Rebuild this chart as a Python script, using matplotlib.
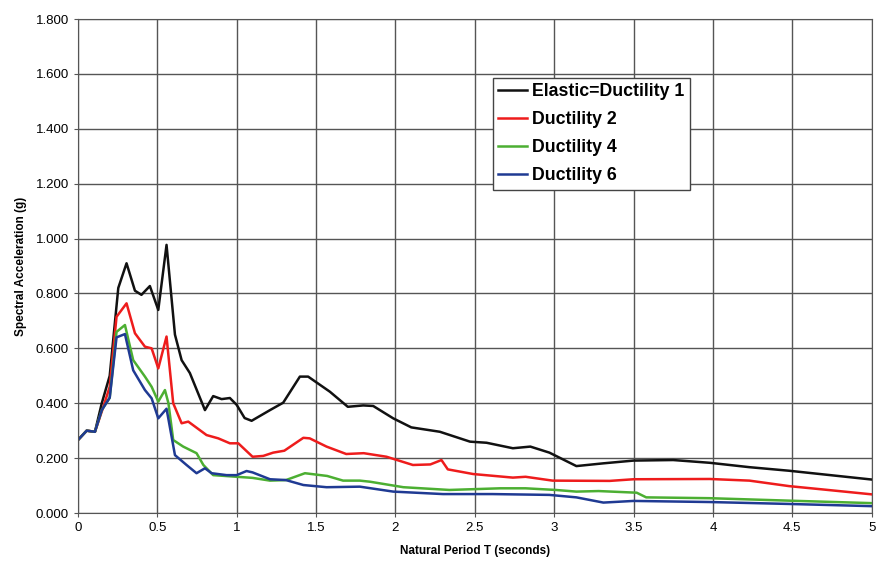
import matplotlib.pyplot as plt
from matplotlib.ticker import FormatStrFormatter, FuncFormatter

plt.rcParams['font.family'] = ['Liberation Sans', 'DejaVu Sans']

# Elastic = Ductility 1
t_el = [0, 0.055, 0.107, 0.15, 0.2, 0.254, 0.306, 0.359, 0.40, 0.453, 0.506, 0.558,
        0.611, 0.653, 0.705, 0.80, 0.852, 0.905, 0.957, 1.0, 1.05, 1.094, 1.21, 1.293,
        1.398, 1.45, 1.587, 1.70, 1.797, 1.86, 1.986, 2.10, 2.28, 2.47, 2.574, 2.74,
        2.85, 2.97, 3.14, 3.31, 3.50, 3.75, 3.98, 4.23, 4.48, 5.0]
sa_el = [0.266, 0.30, 0.296, 0.40, 0.50, 0.82, 0.91, 0.81, 0.795, 0.827, 0.74, 0.977,
         0.65, 0.557, 0.51, 0.375, 0.426, 0.415, 0.419, 0.394, 0.346, 0.336, 0.375, 0.402,
         0.497, 0.497, 0.442, 0.387, 0.392, 0.39, 0.345, 0.312, 0.296, 0.26, 0.256, 0.236,
         0.242, 0.22, 0.171, 0.181, 0.191, 0.193, 0.183, 0.167, 0.154, 0.122]

# Ductility 2
t_d2 = [0, 0.055, 0.107, 0.16, 0.2, 0.243, 0.306, 0.359, 0.422, 0.464, 0.506, 0.558,
        0.60, 0.653, 0.695, 0.81, 0.884, 0.957, 1.01, 1.10, 1.167, 1.23, 1.30, 1.42,
        1.46, 1.566, 1.69, 1.80, 1.944, 2.11, 2.22, 2.29, 2.33, 2.49, 2.74, 2.82, 2.99,
        3.35, 3.50, 3.98, 4.23, 4.48, 4.69, 5.0]
sa_d2 = [0.266, 0.30, 0.296, 0.387, 0.46, 0.715, 0.764, 0.655, 0.606, 0.60, 0.527, 0.643,
         0.40, 0.327, 0.333, 0.284, 0.272, 0.254, 0.254, 0.205, 0.208, 0.22, 0.227, 0.274,
         0.272, 0.242, 0.215, 0.218, 0.205, 0.175, 0.177, 0.193, 0.159, 0.142, 0.129, 0.132,
         0.118, 0.117, 0.123, 0.124, 0.118, 0.098, 0.086, 0.068]

# Ductility 4
t_d4 = [0, 0.055, 0.107, 0.15, 0.2, 0.243, 0.296, 0.348, 0.422, 0.464, 0.506, 0.548,
        0.57, 0.60, 0.663, 0.747, 0.79, 0.852, 1.0, 1.1, 1.21, 1.31, 1.43, 1.57, 1.67,
        1.776, 1.84, 2.05, 2.34, 2.66, 2.82, 3.01, 3.14, 3.28, 3.52, 3.58, 3.98, 4.48, 5.0]
sa_d4 = [0.266, 0.30, 0.296, 0.375, 0.42, 0.66, 0.685, 0.557, 0.497, 0.46, 0.406, 0.448,
         0.40, 0.266, 0.242, 0.218, 0.175, 0.138, 0.132, 0.128, 0.118, 0.12, 0.145, 0.135,
         0.118, 0.118, 0.114, 0.094, 0.084, 0.09, 0.09, 0.084, 0.078, 0.08, 0.074, 0.057,
         0.054, 0.045, 0.036]

# Ductility 6
t_d6 = [0, 0.055, 0.107, 0.15, 0.2, 0.243, 0.296, 0.348, 0.422, 0.464, 0.506, 0.558,
        0.611, 0.684, 0.747, 0.80, 0.842, 0.936, 1.0, 1.062, 1.10, 1.21, 1.31, 1.42,
        1.566, 1.776, 1.986, 2.30, 2.61, 2.97, 3.14, 3.31, 3.50, 3.98, 4.48, 5.0]
sa_d6 = [0.266, 0.30, 0.296, 0.375, 0.42, 0.64, 0.652, 0.52, 0.448, 0.418, 0.345, 0.38,
         0.211, 0.175, 0.145, 0.163, 0.145, 0.138, 0.138, 0.153, 0.148, 0.123, 0.12, 0.102,
         0.094, 0.096, 0.078, 0.069, 0.069, 0.066, 0.057, 0.038, 0.044, 0.04, 0.033, 0.025]

series = [
    (t_el, sa_el, 'Elastic=Ductility 1', '#111111'),
    (t_d2, sa_d2, 'Ductility 2', '#ee1c1c'),
    (t_d4, sa_d4, 'Ductility 4', '#4caf32'),
    (t_d6, sa_d6, 'Ductility 6', '#1f3a93'),
]

fig = plt.figure(figsize=(8.76, 5.69), dpi=100)
ax = fig.add_axes([0.089, 0.0984, 0.906, 0.8682])

for t, sa, name, col in series:
    ax.plot(t, sa, color=col, linewidth=1.8, label=name)

ax.set_xlim(0, 5)
ax.set_ylim(0, 1.8)
ax.set_xticks([0, 0.5, 1, 1.5, 2, 2.5, 3, 3.5, 4, 4.5, 5])
ax.set_yticks([0, 0.2, 0.4, 0.6, 0.8, 1.0, 1.2, 1.4, 1.6, 1.8])
ax.xaxis.set_major_formatter(FuncFormatter(lambda v, p: '%g' % v))
ax.yaxis.set_major_formatter(FormatStrFormatter('%.3f'))
ax.tick_params(labelsize=9.5, length=3, color='#555555')
ax.grid(True, color='#555555', linewidth=1.0)
for s in ax.spines.values():
    s.set_color('#555555')

ax.set_xlabel('Natural Period T (seconds)', fontsize=8.5, fontweight='bold', labelpad=8)
ax.set_ylabel('Spectral Acceleration (g)', fontsize=8.5, fontweight='bold', labelpad=6)

leg = ax.legend(loc='upper left', bbox_to_anchor=(0.523, 0.881), borderaxespad=0,
                prop={'weight': 'bold', 'size': 12.8}, frameon=True, fancybox=False,
                handlelength=1.6, handletextpad=0.3, borderpad=0.3, labelspacing=0.62)
leg.get_frame().set_edgecolor('#444444')
leg.get_frame().set_linewidth(1.0)
leg.get_frame().set_alpha(1)

fig.savefig('out.png', dpi=100)
